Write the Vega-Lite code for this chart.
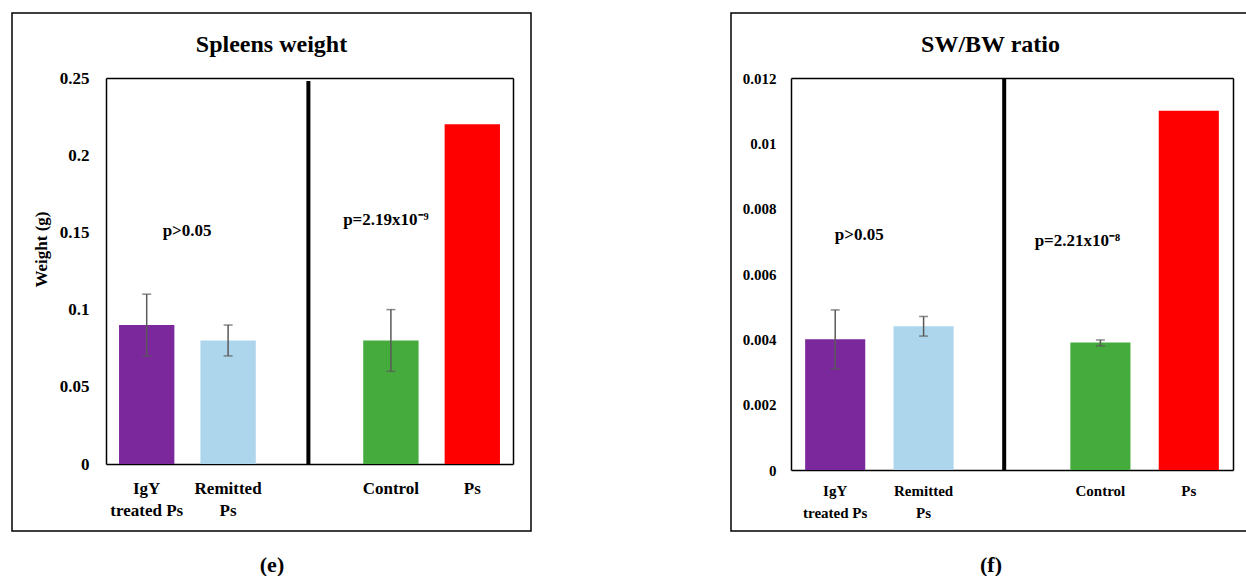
{
  "$schema": "https://vega.github.io/schema/vega-lite/v6.json",
  "padding": {"left": 11, "top": 12, "right": 0, "bottom": 0},
  "background": "white",
  "spacing": 198,
  "config": {
    "font": "Liberation Serif",
    "view": {"stroke": "black", "strokeWidth": 1.5},
    "axis": {"grid": false, "ticks": false, "domainColor": "black", "domainWidth": 1.5, "labelColor": "black", "titleColor": "black", "labelFont": "Liberation Serif", "titleFont": "Liberation Serif", "labelFontWeight": "bold", "titleFontWeight": "bold"},
    "title": {"color": "black", "font": "Liberation Serif", "fontSize": 24, "fontWeight": "bold", "anchor": "middle", "frame": "group", "baseline": "middle", "offset": -44},
    "text": {"font": "Liberation Serif", "fontWeight": "bold", "fontSize": 17, "color": "black"}
  },
  "datasets": {
    "e": [
      {"group": "IgY treated Ps", "value": 0.09, "low": 0.07, "high": 0.11},
      {"group": "Remitted Ps", "value": 0.08, "low": 0.07, "high": 0.09},
      {"group": "Control", "value": 0.08, "low": 0.06, "high": 0.10},
      {"group": "Ps", "value": 0.22, "low": null, "high": null}
    ],
    "f": [
      {"group": "IgY treated Ps", "value": 0.0040, "low": 0.0031, "high": 0.0049},
      {"group": "Remitted Ps", "value": 0.0044, "low": 0.0041, "high": 0.0047},
      {"group": "Control", "value": 0.0039, "low": 0.0038, "high": 0.00398},
      {"group": "Ps", "value": 0.0110, "low": null, "high": null}
    ]
  },
  "hconcat": [
    {
      "width": 519,
      "height": 518,
      "title": {"text": "Spleens weight"},
      "data": {"name": "e"},
      "resolve": {"axis": {"x": "independent", "y": "independent"}},
      "layer": [
        {
          "mark": {"type": "bar"},
          "encoding": {
            "x": {"field": "group", "type": "nominal",
              "scale": {"domain": ["IgY treated Ps", "Remitted Ps", "gap", "Control", "Ps"], "range": [94, 501], "paddingInner": 0.32, "paddingOuter": 0.16},
              "axis": {"orient": "bottom", "offset": -67, "labelAngle": 0, "labelPadding": 16, "labelFontSize": 17, "labelLineHeight": 22,
                "labelExpr": "datum.value == 'IgY treated Ps' ? ['IgY', 'treated Ps'] : datum.value == 'Remitted Ps' ? ['Remitted', 'Ps'] : datum.value == 'gap' ? '' : datum.value",
                "title": "(e)", "titleFontSize": 22, "titleX": 259.5, "titleY": 100, "titleBaseline": "middle", "titleAlign": "center"}},
            "y": {"field": "value", "type": "quantitative",
              "scale": {"domain": [0, 0.25], "range": [451, 65], "nice": false},
              "axis": {"orient": "left", "offset": -94, "values": [0, 0.05, 0.1, 0.15, 0.2, 0.25], "format": "~f", "labelPadding": 17, "labelFontSize": 17,
                "title": "Weight (g)", "titleFontSize": 17, "titleX": -65, "titleY": 236, "titleAngle": -90, "titleBaseline": "middle", "titleAlign": "center"}},
            "color": {"field": "group", "type": "nominal", "legend": null,
              "scale": {"domain": ["IgY treated Ps", "Remitted Ps", "Control", "Ps"], "range": ["#7c289d", "#add6ec", "#45ab3c", "#ff0000"]}}
          }
        },
        {
          "mark": {"type": "bar", "opacity": 0},
          "encoding": {
            "x": {"field": "group", "type": "nominal", "axis": {"orient": "top", "offset": -65, "labels": false, "title": null}},
            "y": {"field": "value", "type": "quantitative", "axis": {"orient": "right", "offset": -18, "labels": false, "title": null}}
          }
        },
        {
          "transform": [{"filter": "isValid(datum.low)"}],
          "mark": {"type": "rule", "color": "#595959", "strokeWidth": 1.5},
          "encoding": {
            "x": {"field": "group", "type": "nominal", "axis": null},
            "y": {"field": "low", "type": "quantitative", "axis": null},
            "y2": {"field": "high"}
          }
        },
        {
          "transform": [{"filter": "isValid(datum.low)"}],
          "mark": {"type": "tick", "color": "#595959", "size": 9, "thickness": 1.5},
          "encoding": {
            "x": {"field": "group", "type": "nominal", "axis": null},
            "y": {"field": "low", "type": "quantitative", "axis": null}
          }
        },
        {
          "transform": [{"filter": "isValid(datum.high)"}],
          "mark": {"type": "tick", "color": "#595959", "size": 9, "thickness": 1.5},
          "encoding": {
            "x": {"field": "group", "type": "nominal", "axis": null},
            "y": {"field": "high", "type": "quantitative", "axis": null}
          }
        },
        {
          "data": {"values": [{}]},
          "mark": {"type": "rule", "color": "black", "strokeWidth": 4},
          "encoding": {
            "x": {"datum": "gap", "bandPosition": 0.48, "axis": null},
            "y": {"datum": 0, "axis": null},
            "y2": {"datum": 0.248}
          }
        },
        {
          "data": {"values": [{"label": "p>0.05", "near": "Remitted Ps", "y": 0.151}]},
          "mark": {"type": "text", "dx": -41, "baseline": "middle", "align": "center"},
          "encoding": {
            "x": {"field": "near", "type": "nominal", "axis": null},
            "y": {"field": "y", "type": "quantitative", "axis": null},
            "text": {"field": "label"}
          }
        },
        {
          "data": {"values": [{"label": "p=2.19x10⁻⁹", "near": "Control", "y": 0.158}]},
          "mark": {"type": "text", "dx": -5, "baseline": "middle", "align": "center"},
          "encoding": {
            "x": {"field": "near", "type": "nominal", "axis": null},
            "y": {"field": "y", "type": "quantitative", "axis": null},
            "text": {"field": "label"}
          }
        }
      ]
    },
    {
      "width": 519,
      "height": 518,
      "title": {"text": "SW/BW ratio"},
      "data": {"name": "f"},
      "resolve": {"axis": {"x": "independent", "y": "independent"}},
      "layer": [
        {
          "mark": {"type": "bar"},
          "encoding": {
            "x": {"field": "group", "type": "nominal",
              "scale": {"domain": ["IgY treated Ps", "Remitted Ps", "gap", "Control", "Ps"], "range": [60, 502], "paddingInner": 0.32, "paddingOuter": 0.16},
              "axis": {"orient": "bottom", "offset": -61, "labelAngle": 0, "labelPadding": 13, "labelFontSize": 15, "labelLineHeight": 22,
                "labelExpr": "datum.value == 'IgY treated Ps' ? ['IgY', 'treated Ps'] : datum.value == 'Remitted Ps' ? ['Remitted', 'Ps'] : datum.value == 'gap' ? '' : datum.value",
                "title": "(f)", "titleFontSize": 22, "titleX": 259.5, "titleY": 94, "titleBaseline": "middle", "titleAlign": "center"}},
            "y": {"field": "value", "type": "quantitative",
              "scale": {"domain": [0, 0.012], "range": [457, 65], "nice": false},
              "axis": {"orient": "left", "offset": -60, "values": [0, 0.002, 0.004, 0.006, 0.008, 0.01, 0.012], "format": "~f", "labelPadding": 15, "labelFontSize": 15, "title": null}},
            "color": {"field": "group", "type": "nominal", "legend": null,
              "scale": {"domain": ["IgY treated Ps", "Remitted Ps", "Control", "Ps"], "range": ["#7c289d", "#add6ec", "#45ab3c", "#ff0000"]}}
          }
        },
        {
          "mark": {"type": "bar", "opacity": 0},
          "encoding": {
            "x": {"field": "group", "type": "nominal", "axis": {"orient": "top", "offset": -65, "labels": false, "title": null}},
            "y": {"field": "value", "type": "quantitative", "axis": {"orient": "right", "offset": -17, "labels": false, "title": null}}
          }
        },
        {
          "transform": [{"filter": "isValid(datum.low)"}],
          "mark": {"type": "rule", "color": "#595959", "strokeWidth": 1.5},
          "encoding": {
            "x": {"field": "group", "type": "nominal", "axis": null},
            "y": {"field": "low", "type": "quantitative", "axis": null},
            "y2": {"field": "high"}
          }
        },
        {
          "transform": [{"filter": "isValid(datum.low)"}],
          "mark": {"type": "tick", "color": "#595959", "size": 9, "thickness": 1.5},
          "encoding": {
            "x": {"field": "group", "type": "nominal", "axis": null},
            "y": {"field": "low", "type": "quantitative", "axis": null}
          }
        },
        {
          "transform": [{"filter": "isValid(datum.high)"}],
          "mark": {"type": "tick", "color": "#595959", "size": 9, "thickness": 1.5},
          "encoding": {
            "x": {"field": "group", "type": "nominal", "axis": null},
            "y": {"field": "high", "type": "quantitative", "axis": null}
          }
        },
        {
          "data": {"values": [{}]},
          "mark": {"type": "rule", "color": "black", "strokeWidth": 4},
          "encoding": {
            "x": {"datum": "gap", "bandPosition": 0.37, "axis": null},
            "y": {"datum": 0, "axis": null},
            "y2": {"datum": 0.012}
          }
        },
        {
          "data": {"values": [{"label": "p>0.05", "near": "IgY treated Ps", "y": 0.0072}]},
          "mark": {"type": "text", "dx": 24, "baseline": "middle", "align": "center"},
          "encoding": {
            "x": {"field": "near", "type": "nominal", "axis": null},
            "y": {"field": "y", "type": "quantitative", "axis": null},
            "text": {"field": "label"}
          }
        },
        {
          "data": {"values": [{"label": "p=2.21x10⁻⁸", "near": "Control", "y": 0.0070}]},
          "mark": {"type": "text", "dx": -23, "baseline": "middle", "align": "center"},
          "encoding": {
            "x": {"field": "near", "type": "nominal", "axis": null},
            "y": {"field": "y", "type": "quantitative", "axis": null},
            "text": {"field": "label"}
          }
        }
      ]
    }
  ]
}
